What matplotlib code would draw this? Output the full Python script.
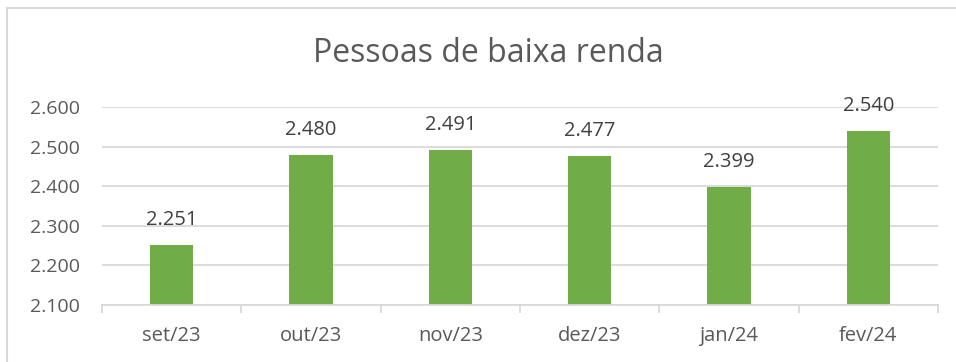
import numpy as np
import matplotlib.pyplot as plt
from matplotlib.lines import Line2D
from matplotlib.ticker import FuncFormatter

meses = ['set/23', 'out/23', 'nov/23', 'dez/23', 'jan/24', 'fev/24']
pessoas = [2251, 2480, 2491, 2477, 2399, 2540]

verde = '#70AD47'
cinza_texto = '#595959'
cinza_rotulo = '#404040'
cinza_linha = '#D9D9D9'


def milhar(v, pos=None):
    # separador de milhar com ponto
    return '{:,.0f}'.format(v).replace(',', '.')


plt.rcParams['font.family'] = ['Open Sans', 'DejaVu Sans']

fig = plt.figure(figsize=(9.56, 3.62), dpi=100)
ax = fig.add_axes([102 / 956, 1 - 305 / 362, (938 - 102) / 956, (305 - 107) / 362])

x = np.arange(len(meses))
barras = ax.bar(x, pessoas, width=0.31, color=verde, zorder=3)

for xi, v in zip(x, pessoas):
    ax.annotate(milhar(v), (xi, v), xytext=(0, 18), textcoords='offset points',
                ha='center', va='center', fontsize=14.5, color=cinza_rotulo,
                annotation_clip=False, zorder=4)

ax.set_ylim(2100, 2600)
ax.set_yticks(np.arange(2100, 2601, 100))
ax.yaxis.set_major_formatter(FuncFormatter(milhar))
ax.grid(axis='y', color=cinza_linha, linewidth=1.3, zorder=0)

ax.set_xlim(-0.5, len(meses) - 0.5)
ax.set_xticks(x)
ax.set_xticklabels(meses)
ax.set_xticks(np.arange(-0.5, len(meses)), minor=True)
ax.tick_params(axis='x', which='major', length=0, pad=15, labelsize=14.5, labelcolor=cinza_texto)
ax.tick_params(axis='x', which='minor', length=6, width=1.3, color=cinza_linha, direction='out')
ax.tick_params(axis='y', length=0, pad=16, labelsize=14, labelcolor=cinza_texto)

for lado in ['top', 'right', 'left']:
    ax.spines[lado].set_visible(False)
ax.spines['bottom'].set_color(cinza_linha)
ax.spines['bottom'].set_linewidth(1.3)
ax.spines['bottom'].set_zorder(5)

fig.text(488 / 956, 1 - 53 / 362, 'Pessoas de baixa renda', ha='center', va='center',
         fontsize=23, color=cinza_texto)

# moldura do gráfico
fig.add_artist(Line2D([7 / 956, 1], [1 - 8 / 362, 1 - 8 / 362], color=cinza_linha, linewidth=1.5))
fig.add_artist(Line2D([7 / 956, 7 / 956], [0, 1 - 8 / 362], color=cinza_linha, linewidth=1.5))

fig.savefig('out.png', dpi=100)
